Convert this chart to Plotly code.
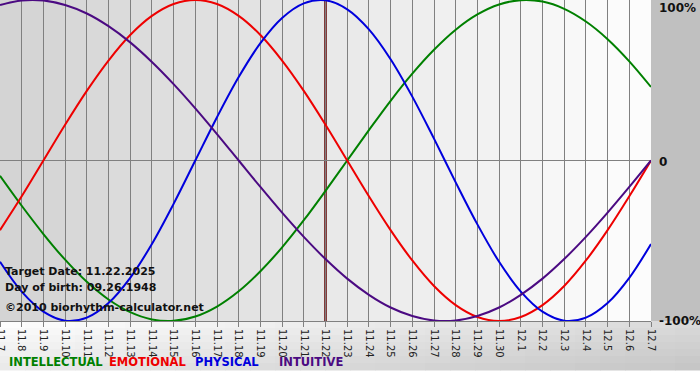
import plotly.graph_objects as go

# ---- data ----
dates = ["11.7", "11.8", "11.9", "11.10", "11.11", "11.12", "11.13", "11.14", "11.15",
         "11.16", "11.17", "11.18", "11.19", "11.20", "11.21", "11.22", "11.23", "11.24",
         "11.25", "11.26", "11.27", "11.28", "11.29", "11.30", "12.1", "12.2", "12.3",
         "12.4", "12.5", "12.6", "12.7"]

physical = [-0.631, -0.817, -0.942, -0.998, -0.979, -0.888, -0.731, -0.520, -0.270, 0.000,
            0.270, 0.520, 0.731, 0.888, 0.979, 0.998, 0.942, 0.817, 0.631, 0.398,
            0.136, -0.136, -0.398, -0.631, -0.817, -0.942, -0.998, -0.979, -0.888, -0.731, -0.520]

emotional = [-0.434, -0.223, 0.000, 0.223, 0.434, 0.623, 0.782, 0.901, 0.975, 1.000,
             0.975, 0.901, 0.782, 0.623, 0.434, 0.223, 0.000, -0.223, -0.434, -0.623,
             -0.782, -0.901, -0.975, -1.000, -0.975, -0.901, -0.782, -0.623, -0.434, -0.223, 0.000]

intellectual = [-0.095, -0.282, -0.458, -0.618, -0.756, -0.866, -0.945, -0.990, -0.999, -0.972,
                -0.910, -0.815, -0.690, -0.541, -0.372, -0.189, 0.000, 0.189, 0.372, 0.541,
                0.690, 0.815, 0.910, 0.972, 0.999, 0.990, 0.945, 0.866, 0.756, 0.618, 0.458]

intuitive = [0.969, 0.997, 0.997, 0.969, 0.916, 0.837, 0.736, 0.614, 0.476, 0.325,
             0.165, 0.000, -0.165, -0.325, -0.476, -0.614, -0.736, -0.837, -0.916, -0.969,
             -0.997, -0.997, -0.969, -0.916, -0.837, -0.736, -0.614, -0.476, -0.325, -0.165, 0.000]

target_label = "11.22"
info_lines = ["Target Date: 11.22.2025", "Day of birth: 09.26.1948", "\u00a92010 biorhythm-calculator.net"]
legend_names = ["INTELLECTUAL", "EMOTIONAL", "PHYSICAL", "INTUITIVE"]
y_labels = ["100%", "0", "-100%"]

# ---- layout constants ----
W, H = 700, 380
ML, MR, MT, MB = 0, 49, 0, 59
PW, PH = W - ML - MR, H - MT - MB


def px(x):
    return (x - ML) / PW


def py(y):
    return (MT + PH - y) / PH


def lerp_gray(a, b, t):
    v = int(round(a + (b - a) * t))
    return f"rgb({v},{v},{v})"


xs = list(range(len(dates)))

fig = go.Figure()

colors = {"INTELLECTUAL": "#008000", "EMOTIONAL": "#ee0000",
          "PHYSICAL": "#0000dd", "INTUITIVE": "#4b0a82"}
series = [("INTELLECTUAL", intellectual), ("EMOTIONAL", emotional),
          ("PHYSICAL", physical), ("INTUITIVE", intuitive)]

for name, vals in series:
    fig.add_trace(go.Scatter(x=xs, y=vals, mode="lines", name=name,
                             line=dict(color=colors[name], width=2, shape="spline", smoothing=1.0),
                             hoverinfo="skip"))

shapes = []
n = len(dates) - 1
# plot-area horizontal gradient, one strip per day
for i in range(n):
    shapes.append(dict(type="rect", xref="x", yref="paper", x0=i, x1=i + 1, y0=0, y1=1,
                       fillcolor=lerp_gray(211, 253, (i + 0.5) / n), line_width=0, layer="below"))
# right margin
shapes.append(dict(type="rect", xref="paper", yref="paper", x0=1, x1=px(W + 2), y0=0, y1=1,
                   fillcolor="#c0c0c0", line_width=0, layer="below"))
# bottom band gradient
cols, rows = 28, 7
band_top, band_bot = MT + PH, 370
for c in range(cols):
    for r in range(rows):
        x0 = c * W / cols
        x1 = (c + 1) * W / cols
        y0 = band_top + r * (band_bot - band_top) / rows
        y1 = band_top + (r + 1) * (band_bot - band_top) / rows
        t = 0.62 * ((x0 + x1) / 2 / W) + 0.38 * (((y0 + y1) / 2 - band_top) / (band_bot - band_top))
        shapes.append(dict(type="rect", xref="paper", yref="paper",
                           x0=px(x0), x1=px(x1 + 0.5), y0=py(y1 + 0.5), y1=py(y0),
                           fillcolor=lerp_gray(255, 196, t), line_width=0, layer="below"))
# target date marker
ti = dates.index(target_label)
shapes.append(dict(type="line", xref="x", yref="paper", x0=ti, x1=ti, y0=0, y1=1,
                   line=dict(color="#600000", width=2.5), layer="between"))

annotations = []
for txt, yc in zip(info_lines, [271, 287, 307]):
    annotations.append(dict(text=txt, xref="paper", yref="paper", x=px(3), y=py(yc),
                            xanchor="left", yanchor="middle", showarrow=False,
                            font=dict(family="DejaVu Sans", size=11, color="#111111", weight="bold")))
for name, xl in zip(legend_names, [7, 107, 193, 277]):
    annotations.append(dict(text=name, xref="paper", yref="paper", x=px(xl), y=py(362),
                            xanchor="left", yanchor="middle", showarrow=False,
                            font=dict(family="DejaVu Sans", size=11.5, color=colors[name], weight="bold")))
for txt, yc in zip(y_labels, [8, 162, 321]):
    annotations.append(dict(text=txt, xref="paper", yref="paper", x=px(657), y=py(yc),
                            xanchor="left", yanchor="middle", showarrow=False,
                            font=dict(family="DejaVu Sans", size=12, color="#111111", weight="bold")))

fig.update_layout(
    width=W, height=H,
    margin=dict(l=ML, r=MR, t=MT, b=MB, pad=0, autoexpand=False),
    paper_bgcolor="#ffffff",
    plot_bgcolor="rgba(0,0,0,0)",
    showlegend=False,
    shapes=shapes,
    annotations=annotations,
    xaxis=dict(range=[0, n], tickvals=xs, ticktext=dates, tickangle=90,
               showgrid=True, gridcolor="#808080", gridwidth=1,
               showline=True, linecolor="#808080", linewidth=1,
               ticks="outside", ticklen=5, tickcolor="#808080",
               ticklabeloverflow="allow", automargin=False,
               tickfont=dict(family="DejaVu Sans", size=10, color="#222222"),
               zeroline=False, fixedrange=True),
    yaxis=dict(range=[-1.0, 1.0], showgrid=False, zeroline=True, zerolinecolor="#808080",
               zerolinewidth=1, showticklabels=False, ticks="", fixedrange=True,
               automargin=False),
)

fig.write_html("out.html", config={"displayModeBar": False},
               post_script="document.body.style.margin='0px';document.body.style.overflow='hidden';")
